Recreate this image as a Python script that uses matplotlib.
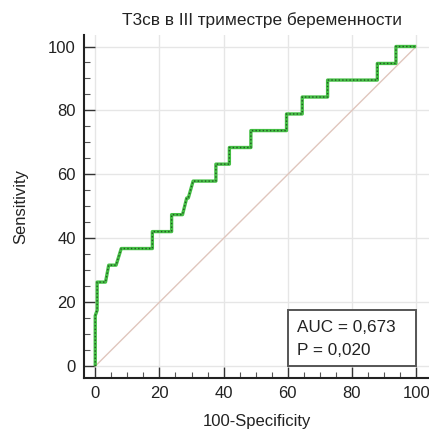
import matplotlib
matplotlib.use("Agg")
import matplotlib.pyplot as plt
from matplotlib.ticker import MultipleLocator

plt.rcParams['font.family'] = ['Liberation Sans', 'DejaVu Sans']

# ROC curve points (100-Specificity, Sensitivity)
fpr = [0, 0, 0.6, 0.6, 3.2, 4.2, 6.5, 8.1, 17.8, 17.8, 23.8, 23.8, 27.2, 28.5,
       29.0, 30.5, 37.6, 37.6, 41.8, 41.8, 48.5, 48.5, 59.6, 59.6, 64.5, 64.5,
       72.4, 72.4, 87.9, 87.9, 93.7, 93.7, 100]
tpr = [0, 15.8, 17.5, 26.3, 26.3, 31.6, 31.6, 36.8, 36.8, 42.1, 42.1, 47.4, 47.4, 52.6,
       52.6, 57.9, 57.9, 63.2, 63.2, 68.4, 68.4, 73.7, 73.7, 78.9, 78.9, 84.2,
       84.2, 89.5, 89.5, 94.7, 94.7, 100, 100]
ref_line = [0, 100]

title = "Т3св в III триместре беременности"
auc_text = "AUC = 0,673"
p_text = "P = 0,020"
ticks = [0, 20, 40, 60, 80, 100]

fig = plt.figure(figsize=(4.29, 4.32), dpi=100)
ax = fig.add_axes([84 / 429, 54 / 432, 345 / 429, 343 / 432])

ax.set_xlim(-3.5, 104)
ax.set_ylim(-3.7, 103.6)

ax.grid(True, which='major', color='#e6e6e6', lw=1.0, zorder=0)
ax.set_axisbelow(True)

ax.plot(ref_line, ref_line, color='#e0c6bd', lw=1.0, zorder=2)
ax.plot(fpr, tpr, color='#45c045', lw=2.4, zorder=3, solid_capstyle='butt')
ax.plot(fpr, tpr, color='#245524', lw=1.0, ls=(0, (1.0, 1.6)), zorder=4)

for s in ['top', 'right']:
    ax.spines[s].set_visible(False)
for s in ['left', 'bottom']:
    ax.spines[s].set_color('#222222')
    ax.spines[s].set_linewidth(1.5)

ax.set_xticks(ticks)
ax.set_yticks(ticks)
ax.xaxis.set_minor_locator(MultipleLocator(5))
ax.yaxis.set_minor_locator(MultipleLocator(5))
ax.tick_params(which='major', direction='in', length=8, width=1.0, color='#333333',
               labelsize=12, labelcolor='#222222', pad=6)
ax.tick_params(which='minor', direction='in', length=4, width=0.8, color='#555555')

ax.set_xlabel("100-Specificity", fontsize=12, color='#222222', labelpad=9)
ax.set_ylabel("Sensitivity", fontsize=12, color='#222222', labelpad=14)

fig.text(262 / 429, 1 - 20 / 432, title, ha='center', va='center',
         fontsize=12.4, color='#222222')

# AUC box in the lower right corner
box = plt.Rectangle((60, 0), 40, 17.7, fill=True, facecolor='white',
                    edgecolor='#555555', lw=1.4, zorder=5)
ax.add_patch(box)
ax.text(62.8, 12.0, auc_text, fontsize=12.3, color='#222222', va='center', zorder=6)
ax.text(62.8, 5.0, p_text, fontsize=12.3, color='#222222', va='center', zorder=6)

fig.savefig("out.png", dpi=100)
